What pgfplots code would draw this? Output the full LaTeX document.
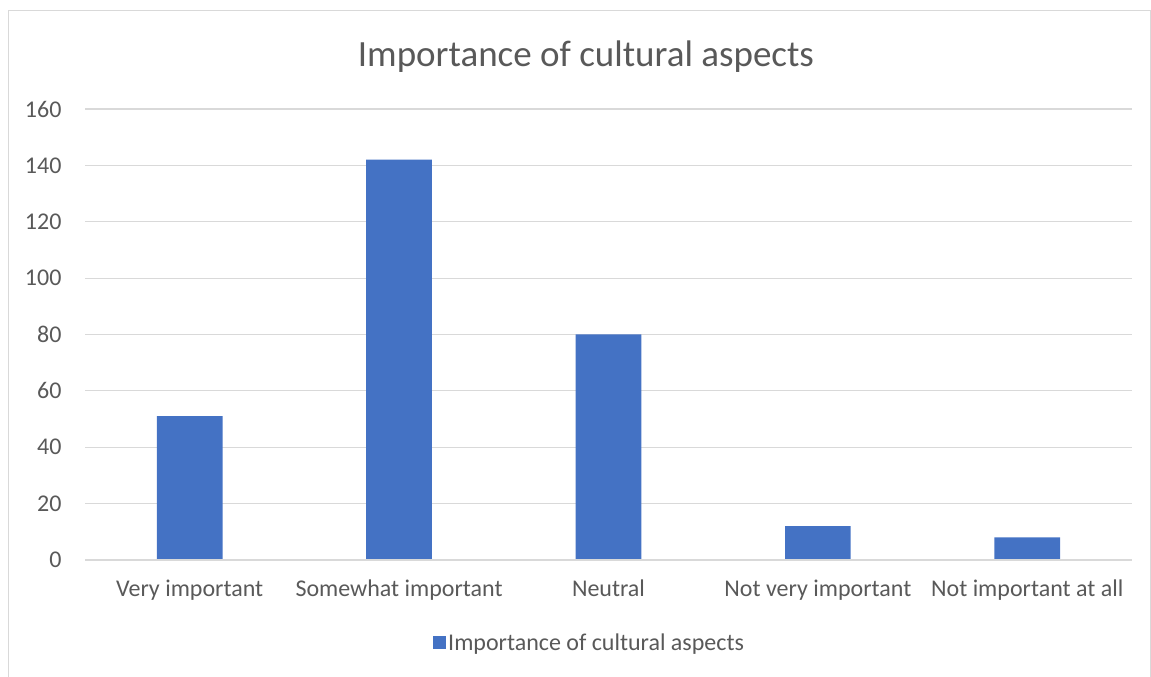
\documentclass[border=0pt]{standalone}
\usepackage{pgfplots}
\pgfplotsset{compat=1.18}
\usepackage{fontspec}
\setmainfont{Carlito}
\definecolor{barblue}{HTML}{4472C4}
\definecolor{txtgray}{HTML}{595959}
\definecolor{gridgray}{HTML}{D9D9D9}
\begin{document}
\begin{tikzpicture}[x=1bp,y=1bp]
\path[use as bounding box] (0,0) rectangle (1151,677);
\draw[gridgray, line width=1.5bp] (8.5,0) -- (8.5,666.5) -- (1150.5,666.5) -- (1150.5,0);
\begin{axis}[
  at={(85bp,117bp)}, anchor=south west,
  scale only axis, width=1047bp, height=451bp,
  xmin=-0.5, xmax=4.5, ymin=0, ymax=160,
  ytick={0,20,...,160},
  xtick={0,1,2,3,4},
  xticklabels={Very important,Somewhat important,Neutral,Not very important,Not important at all},
  axis line style={draw=none},
  major tick length=0pt,
  ymajorgrids, grid style={gridgray, line width=1.2bp},
  /pgf/number format/assume math mode=true,
  ticklabel style={font=\fontsize{24bp}{28bp}\selectfont, text=txtgray},
  yticklabel style={xshift=-20bp},
  xticklabel style={yshift=-16bp},
  title={Importance of cultural aspects},
  title style={at={(0.4785,1.103)}, anchor=center, font=\fontsize{37bp}{42bp}\selectfont, text=txtgray},
  legend style={at={(0.482,-0.184)}, anchor=center, draw=none, font=\fontsize{24bp}{28bp}\selectfont, text=txtgray, inner sep=0pt},
  ybar, bar width=65.7bp,
  clip=false,
]
\addplot[fill=barblue, draw=none, bar shift=0pt,
  legend image code/.code={\fill[barblue] (0bp,-6.5bp) rectangle (13bp,6.5bp);}]
  coordinates {(0,51) (1,142) (2,80) (3,12) (4,8)};
\addlegendentry{Importance of cultural aspects}
\draw[gridgray, line width=1.5bp] (rel axis cs:0,0) -- (rel axis cs:1,0);
\end{axis}
\end{tikzpicture}
\end{document}
